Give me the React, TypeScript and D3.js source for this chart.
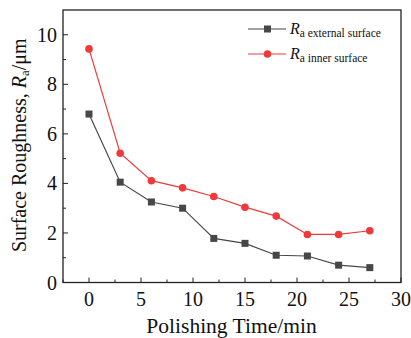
import React from "react";
import * as d3 from "d3";

const times = [0, 3, 6, 9, 12, 15, 18, 21, 24, 27];
const externalRa = [6.8, 4.05, 3.25, 3.0, 1.78, 1.58, 1.1, 1.07, 0.7, 0.6];
const innerRa = [9.43, 5.22, 4.11, 3.82, 3.47, 3.04, 2.68, 1.94, 1.94, 2.09];
const xTicks = [0, 5, 10, 15, 20, 25, 30];
const yTicks = [0, 2, 4, 6, 8, 10];
const seriesNames = ["external surface", "inner surface"];

const W = 411, H = 338;
const M = { left: 63, right: 10, top: 10, bottom: 55.5 };
const FONT = "Liberation Serif, Times New Roman, DejaVu Serif, serif";

export default function App() {
  const x = d3.scaleLinear().domain([-2.5, 30]).range([M.left, W - M.right]);
  const y = d3.scaleLinear().domain([0, 11]).range([H - M.bottom, M.top]);
  const line = d3.line<number>().x((_, i) => x(times[i])).y((d) => y(d));
  const xMinor = d3.range(-2.5, 30.01, 2.5).filter((v) => !xTicks.includes(v));
  const yMinor = d3.range(1, 11, 2);
  const gray = "#474747";
  const red = "#ee3a3a";
  const bottom = H - M.bottom;
  const ts: React.CSSProperties = { fontFamily: FONT };
  return (
    <svg width={W} height={H} style={{ position: "absolute", left: 0, top: 0, fontFamily: FONT }}>
      <rect x={0} y={0} width={W} height={H} fill="#fff" />
      {xTicks.map((t) => (
        <g key={"xt" + t}>
          <line x1={x(t)} x2={x(t)} y1={bottom} y2={bottom - 5} stroke="#222" strokeWidth={1} />
          <text x={x(t)} y={bottom + 23.5} textAnchor="middle" fontSize={20} fill="#111" style={ts}>{t}</text>
        </g>
      ))}
      {xMinor.map((t) => (
        <line key={"xm" + t} x1={x(t)} x2={x(t)} y1={bottom} y2={bottom - 3} stroke="#222" strokeWidth={1} />
      ))}
      {yTicks.map((t) => (
        <g key={"yt" + t}>
          <line x1={M.left} x2={M.left + 5} y1={y(t)} y2={y(t)} stroke="#222" strokeWidth={1} />
          <text x={M.left - 6} y={y(t) + 7} textAnchor="end" fontSize={20} fill="#111" style={ts}>{t}</text>
        </g>
      ))}
      {yMinor.map((t) => (
        <line key={"ym" + t} x1={M.left} x2={M.left + 3} y1={y(t)} y2={y(t)} stroke="#222" strokeWidth={1} />
      ))}
      <path d={line(externalRa) || ""} fill="none" stroke={gray} strokeWidth={1.2} />
      {externalRa.map((v, i) => (
        <rect key={"e" + i} x={x(times[i]) - 3.5} y={y(v) - 3.5} width={7} height={7} fill={gray} />
      ))}
      <path d={line(innerRa) || ""} fill="none" stroke={red} strokeWidth={1.2} />
      {innerRa.map((v, i) => (
        <circle key={"r" + i} cx={x(times[i])} cy={y(v)} r={3.8} fill={red} />
      ))}
      <rect x={M.left} y={M.top} width={W - M.left - M.right} height={H - M.top - M.bottom} fill="none" stroke="#222" strokeWidth={1.3} />
      {seriesNames.map((name, i) => {
        const ly = 29 + i * 25;
        const c = i === 0 ? gray : red;
        return (
          <g key={"lg" + i}>
            <line x1={248} x2={286} y1={ly} y2={ly} stroke={c} strokeWidth={1.2} />
            {i === 0 ? (
              <rect x={264} y={ly - 3.5} width={7} height={7} fill={c} />
            ) : (
              <circle cx={267.5} cy={ly} r={3.8} fill={c} />
            )}
            <text x={290} y={ly + 5} fontSize={16} fill="#111" style={ts}>
              <tspan fontStyle="italic">R</tspan>
              <tspan fontSize={11.5} dy={3}>a {name}</tspan>
            </text>
          </g>
        );
      })}
      <text x={(M.left + W - M.right) / 2 - 0.5} y={333} textAnchor="middle" fontSize={21.5} fill="#111" style={ts}>Polishing Time/min</text>
      <text transform={`translate(26,${(M.top + bottom) / 2 - 1}) rotate(-90)`} textAnchor="middle" fontSize={20} fill="#111" style={ts}>
        Surface Roughness, <tspan fontStyle="italic">R</tspan><tspan fontSize={13} dy={3}>a</tspan><tspan dy={-3}>/μm</tspan>
      </text>
    </svg>
  );
}
